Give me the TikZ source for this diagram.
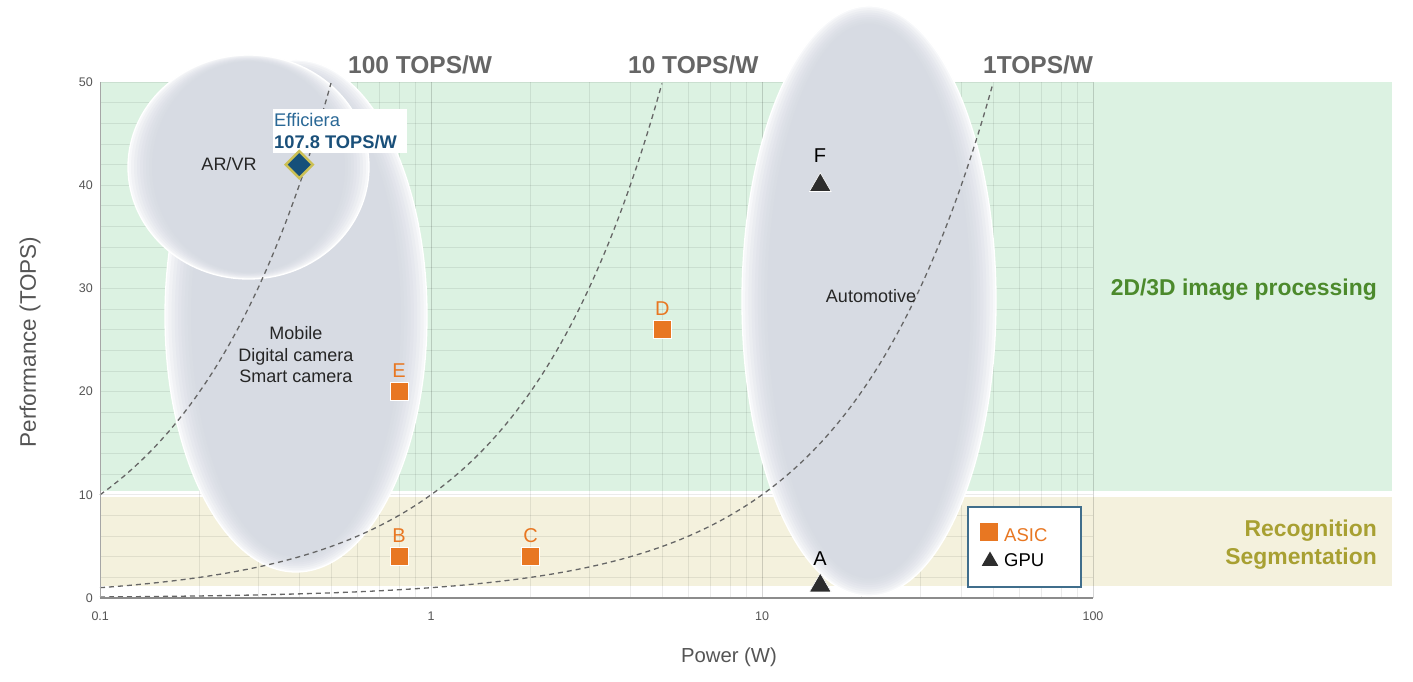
\documentclass[tikz,border=0pt]{standalone}
\usepackage{fontspec}
\setmainfont{Liberation Sans}
\usetikzlibrary{shapes.geometric}
\definecolor{bandgreen}{RGB}{220,242,226}
\definecolor{bandtan}{RGB}{244,241,221}
\definecolor{ellc}{RGB}{215,219,227}
\definecolor{ellw}{RGB}{247,248,250}
\definecolor{asic}{RGB}{232,119,34}
\definecolor{gpu}{RGB}{45,45,45}
\definecolor{effblue}{RGB}{22,80,122}
\definecolor{effgold}{RGB}{204,192,84}
\definecolor{efftext}{RGB}{42,104,150}
\definecolor{effbold}{RGB}{26,80,122}
\definecolor{lblgray}{RGB}{102,102,102}
\definecolor{axgray}{RGB}{85,85,85}
\definecolor{imggreen}{RGB}{76,138,44}
\definecolor{recolive}{RGB}{168,160,50}
\definecolor{legborder}{RGB}{64,110,140}
\newcommand\XP[1]{(100+331*(log10(#1)+1))}
\newcommand\YV[1]{(598-10.32*(#1))}
% soft-edged ellipse: centre, x radius, y radius
\newcommand\gradell[3]{%
  \foreach \s/\m in {1/0,0.975/20,0.95/38,0.925/54,0.9/67,0.875/78,0.85/87,0.825/94,0.8/100}{%
    \fill[ellc!\m!ellw] #1 ellipse [x radius={\s*#2pt}, y radius={(1-(1-\s)*0.3)*#3pt}];
  }%
  \draw[eline] #1 ellipse [x radius=#2pt, y radius=#3pt];
}
\tikzset{
  gridminor/.style={draw=black, opacity=0.08, line width=0.8pt},
  gridmajor/.style={draw=black, opacity=0.16, line width=0.9pt},
  effcurve/.style={draw=lblgray, line width=1.3pt, dash pattern=on 5pt off 4pt},
  eline/.style={draw=white, line width=1.3pt},
  asicsq/.style={rectangle, fill=asic, draw=white, line width=0.6pt, minimum size=18pt, inner sep=0pt},
  gputri/.style={regular polygon, regular polygon sides=3, fill=gpu, draw=white, line width=0.6pt, minimum size=25pt, inner sep=0pt},
  ptlabel/.style={font=\fontsize{20}{22}\selectfont, inner sep=0pt, anchor=base},
  ticklbl/.style={font=\fontsize{12.5}{14}\selectfont, text=axgray, inner sep=0pt},
  tpwlbl/.style={font=\fontsize{24.5}{28}\selectfont\bfseries, text=lblgray, inner sep=0pt, anchor=base west},
  arealbl/.style={font=\fontsize{18}{21.5}\selectfont, text=black!85, inner sep=0pt, align=center},
  sidelbl/.style={font=\fontsize{22.9}{28}\selectfont\bfseries, anchor=base east, inner sep=0pt},
}
\begin{document}
\begin{tikzpicture}[x=1pt,y=-1pt]
\useasboundingbox (0,0) rectangle (1413,682);
\fill[white] (0,0) rectangle (1413,682);
% bands
\fill[bandgreen] (100,82) rectangle (1392,491);
\fill[bandtan] (100,497) rectangle (1392,586);
% grid
\foreach \d in {0.1,1,10}{
  \foreach \k in {2,...,9}{
    \draw[gridminor] ({\XP{\k*\d}},82) -- ({\XP{\k*\d}},598);
  }
}
\foreach \p in {1,10,100}{
  \draw[gridmajor] ({\XP{\p}},82) -- ({\XP{\p}},598);
}
\foreach \v in {2,4,...,50}{
  \draw[gridminor] (100,{\YV{\v}}) -- (1093,{\YV{\v}});
}
% ellipses
\gradell{(296,316)}{131}{256}
\gradell{(248.5,167)}{120.5}{112}
\gradell{(869,301)}{127}{295}
% efficiency curves
\draw[effcurve] plot[domain=-1:-0.30103, samples=80, smooth] ({100+331*(\x+1)},{598-10.32*100*pow(10,\x)});
\draw[effcurve] plot[domain=-1:0.69897, samples=120, smooth] ({100+331*(\x+1)},{598-10.32*10*pow(10,\x)});
\draw[effcurve] plot[domain=-1:1.69897, samples=160, smooth] ({100+331*(\x+1)},{598-10.32*pow(10,\x)});
% axes
\draw[black!35, line width=1pt] (100,82) -- (100,598);
\draw[black!45, line width=1.6pt] (100,598) -- (1093,598);
% tick labels
\foreach \v in {0,10,...,50}{
  \node[ticklbl, anchor=east] (yt\v) at (93,{\YV{\v}}) {\v};
}
\node[ticklbl] (xt1) at ({\XP{0.1}},616) {0.1};
\node[ticklbl] (xt2) at ({\XP{1}},616) {1};
\node[ticklbl] (xt3) at ({\XP{10}},616) {10};
\node[ticklbl] (xt4) at ({\XP{100}},616) {100};
\node[font=\fontsize{22.5}{24}\selectfont, text=axgray, rotate=90] (ylab) at (30,342) {Performance (TOPS)};
\node[font=\fontsize{20.3}{22}\selectfont, text=axgray] (xlab) at (729,657) {Power (W)};
% efficiency labels
\node[tpwlbl] (t100) at (348,74) {100 TOPS/W};
\node[tpwlbl] (t10) at (628,74) {10 TOPS/W};
\node[tpwlbl] (t1) at (983,74) {1TOPS/W};
% area labels
\node[arealbl] (arvr) at (229,164) {AR/VR};
\node[arealbl] (mobile) at (296,355) {Mobile\\Digital camera\\Smart camera};
\node[arealbl] (auto) at (871,296) {Automotive};
% right labels
\node[sidelbl, text=imggreen] (img) at (1377,295) {2D/3D image processing};
\node[sidelbl, text=recolive] (rec1) at (1377,536) {Recognition};
\node[sidelbl, text=recolive] (rec2) at (1377,564) {Segmentation};
% Efficiera
\node[fill=white, minimum width=134pt, minimum height=44pt, inner sep=0pt] (effbox) at (340,131) {};
\node[font=\fontsize{18.3}{20}\selectfont, text=efftext, anchor=base west, inner sep=0pt] (efft) at (274,127) {Efficiera};
\node[font=\fontsize{18.3}{20}\selectfont\bfseries, text=effbold, anchor=base west, inner sep=0pt] (effv) at (274,148) {107.8 TOPS/W};
\node[diamond, fill=effblue, draw=effgold, line width=2.5pt, minimum width=28pt, minimum height=28pt, inner sep=0pt] (eff) at ({\XP{0.4}},{\YV{42}}) {};
% ASIC points
\node[asicsq] (sqE) at ({\XP{0.8}},{\YV{20}}) {};
\node[asicsq] (sqB) at ({\XP{0.8}},{\YV{4}}) {};
\node[asicsq] (sqC) at ({\XP{2}},{\YV{4}}) {};
\node[asicsq] (sqD) at ({\XP{5}},{\YV{26}}) {};
\node[ptlabel, text=asic] (lE) at ([yshift=5pt]sqE.north) {E};
\node[ptlabel, text=asic] (lB) at ([yshift=5pt]sqB.north) {B};
\node[ptlabel, text=asic] (lC) at ([yshift=5pt]sqC.north) {C};
\node[ptlabel, text=asic] (lD) at ([yshift=5pt]sqD.north) {D};
% GPU points
\node[gputri] (trF) at ({\XP{15}},{\YV{40}}) {};
\node[gputri] (trA) at ({\XP{15}},{\YV{1.2}}) {};
\node[ptlabel, text=black] (lF) at (820,162) {F};
\node[ptlabel, text=black] (lA) at (820,565) {A};
% legend
\node[draw=legborder, line width=1.5pt, fill=white, minimum width=113pt, minimum height=80pt, inner sep=0pt] (leg) at (1024.5,547) {};
\node[rectangle, fill=asic, minimum size=18pt, inner sep=0pt] (legsq) at (989,532) {};
\node[regular polygon, regular polygon sides=3, fill=gpu, minimum size=19pt, inner sep=0pt] (legtri) at (990,561) {};
\node[font=\fontsize{18.5}{20}\selectfont, text=asic, anchor=base west, inner sep=0pt] (legasic) at (1004,541) {ASIC};
\node[font=\fontsize{18.5}{20}\selectfont, text=black, anchor=base west, inner sep=0pt] (leggpu) at (1004,566) {GPU};
\end{tikzpicture}
\end{document}
